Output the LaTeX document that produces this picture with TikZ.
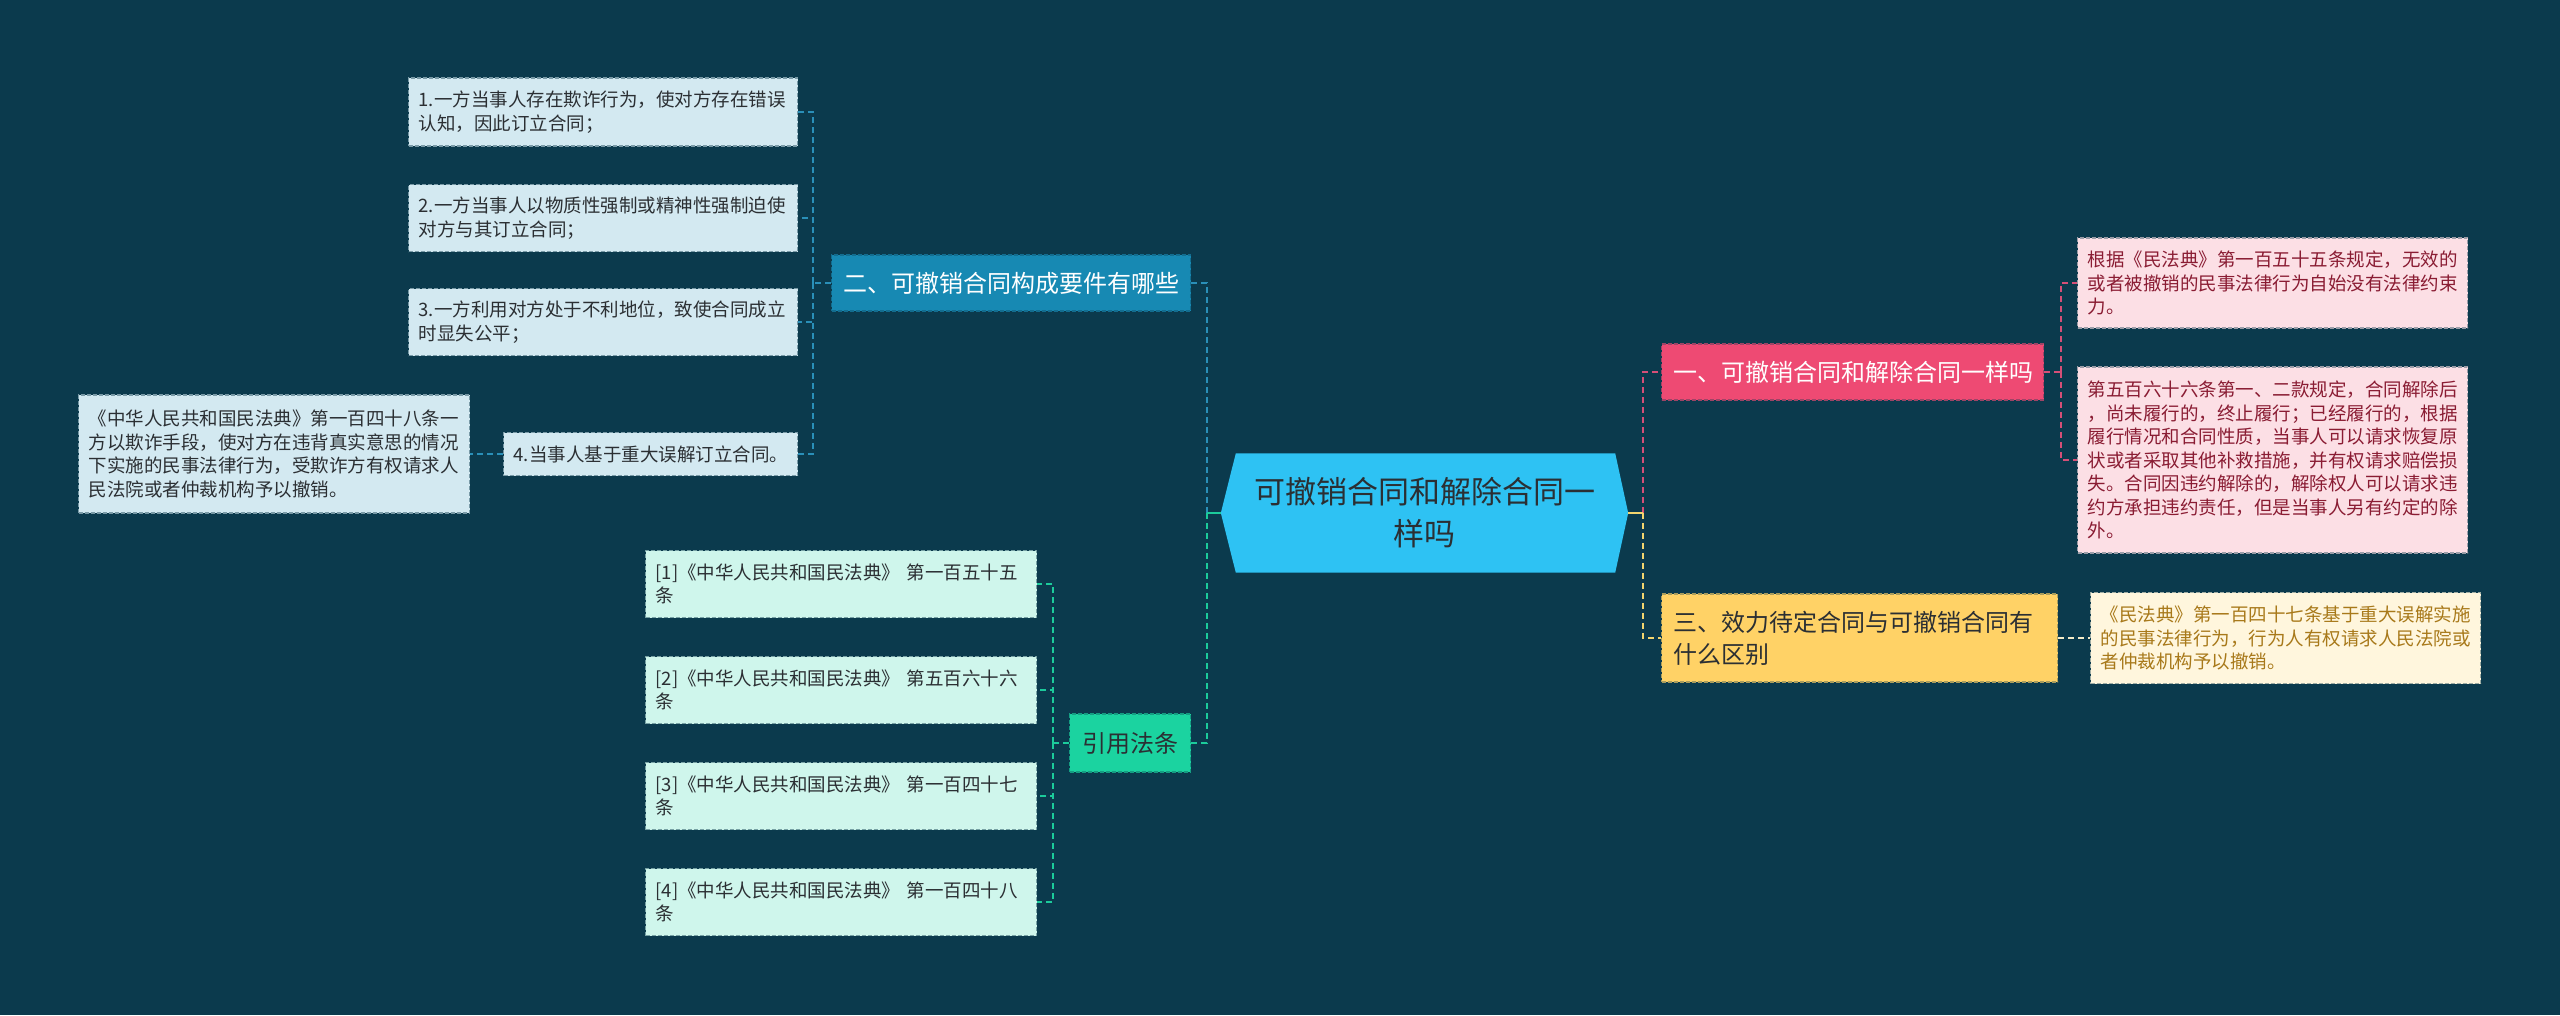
\documentclass[tikz,border=0pt]{standalone}
\usepackage{fontspec}
\usepackage{xcolor}
\usepackage{tikz}
\usetikzlibrary{positioning,backgrounds}
\newfontfamily\cjk{Noto Sans CJK SC}
\definecolor{MapNavy}{HTML}{0B3A4D}
\definecolor{MapSky}{HTML}{2EC2F3}
\definecolor{MapBlue}{HTML}{1789B3}
\definecolor{MapMint}{HTML}{1BD3A0}
\definecolor{MapRose}{HTML}{EE4A73}
\definecolor{MapGold}{HTML}{FFD266}
\definecolor{LeafBlue}{HTML}{D3E9F1}
\definecolor{LeafMint}{HTML}{CFF6EC}
\definecolor{LeafRose}{HTML}{FCDFE5}
\definecolor{LeafGold}{HTML}{FFF6DD}
\definecolor{LinkBlue}{HTML}{2A8FB8}
\definecolor{LinkMint}{HTML}{1CCB9B}
\definecolor{LinkRose}{HTML}{D64F77}
\definecolor{LinkGold}{HTML}{F3D56E}
\definecolor{LinkCream}{HTML}{F4EBC8}
\definecolor{InkDark}{HTML}{2B2F33}
\definecolor{InkRose}{HTML}{8A1C33}
\definecolor{InkGold}{HTML}{A8791A}
\tikzset{
  box/.style={anchor=west, inner ysep=0pt, align=left, line width=1.2pt,
              dash pattern=on 4pt off 2pt},
  leaf/.style={box, inner xsep=10pt, text width=#1, text=InkDark,
               font=\cjk\fontsize{18.5}{23.5}\selectfont},
  topic/.style={box, inner xsep=12pt, text width=#1,
                font=\cjk\fontsize{24}{32}\selectfont},
  blueleaf/.style={leaf=#1, fill=LeafBlue, draw=LeafBlue!55!MapNavy},
  mintleaf/.style={leaf=#1, fill=LeafMint, draw=LeafMint!55!MapNavy},
  roseleaf/.style={leaf=#1, fill=LeafRose, draw=LeafRose!60!MapNavy, text=InkRose},
  goldleaf/.style={leaf=#1, fill=LeafGold, draw=LeafGold!60!MapNavy, text=InkGold},
  twig/.style={line width=1.6pt, dash pattern=on 6pt off 4pt},
  stem/.style={line width=2.4pt}
}

\begin{document}
\begin{tikzpicture}[x=1pt, y=-1pt]
  \useasboundingbox (0,0) rectangle (2560,1015);
  \begin{scope}[on background layer]
    \fill[MapNavy] (0,0) rectangle (2560,1015);
  \end{scope}

  % central topic
  \node[align=center, minimum width=407pt, minimum height=119pt, inner sep=0pt,
        text=InkDark, font=\cjk\fontsize{31}{42}\selectfont]
        (root) at (1424.5,513) {可撤销合同和解除合同一\\样吗};
  \begin{scope}[on background layer]
    \fill[MapSky] (root.west) -- ([xshift=15pt]root.north west)
      -- ([xshift=-13pt]root.north east) -- (root.east)
      -- ([xshift=-13pt]root.south east) -- ([xshift=15pt]root.south west) -- cycle;
  \end{scope}

  % left branches
  \node[topic=335pt, fill=MapBlue, draw=MapBlue!65!MapNavy, text=white, minimum height=56pt]
        (need) at (831,283) {二、可撤销合同构成要件有哪些};
  \node[blueleaf=369pt, minimum height=68pt] (need1) at (408,112)
        {1.一方当事人存在欺诈行为，使对方存在错误\\认知，因此订立合同；};
  \node[blueleaf=369pt, minimum height=67pt] (need2) at (408,218)
        {2.一方当事人以物质性强制或精神性强制迫使\\对方与其订立合同；};
  \node[blueleaf=369pt, minimum height=67pt] (need3) at (408,322)
        {3.一方利用对方处于不利地位，致使合同成立\\时显失公平；};
  \node[blueleaf=274pt, minimum height=43pt] (need4) at (503,454)
        {4.当事人基于重大误解订立合同。};
  \node[blueleaf=371pt, minimum height=118pt] (fraud) at (78,454)
        {《中华人民共和国民法典》第一百四十八条一\\方以欺诈手段，使对方在违背真实意思的情况\\下实施的民事法律行为，受欺诈方有权请求人\\民法院或者仲裁机构予以撤销。};

  \node[topic=97pt, align=center, fill=MapMint, draw=MapMint!65!MapNavy, text=InkDark,
        minimum height=58pt] (cite) at (1069,743) {引用法条};
  \node[mintleaf=371pt, minimum height=67pt] (cite1) at (645,584)
        {[1]《中华人民共和国民法典》 第一百五十五\\条};
  \node[mintleaf=371pt, minimum height=67pt] (cite2) at (645,690)
        {[2]《中华人民共和国民法典》 第五百六十六\\条};
  \node[mintleaf=371pt, minimum height=67pt] (cite3) at (645,796)
        {[3]《中华人民共和国民法典》 第一百四十七\\条};
  \node[mintleaf=371pt, minimum height=67pt] (cite4) at (645,902)
        {[4]《中华人民共和国民法典》 第一百四十八\\条};

  % right branches
  \node[topic=358pt, fill=MapRose, draw=MapRose!65!MapNavy, text=white, minimum height=56pt]
        (same) at (1661,372) {一、可撤销合同和解除合同一样吗};
  \node[roseleaf=370pt, minimum height=90pt] (same1) at (2077,283)
        {根据《民法典》第一百五十五条规定，无效的\\或者被撤销的民事法律行为自始没有法律约束\\力。};
  \node[roseleaf=370pt, minimum height=186pt] (same2) at (2077,460)
        {第五百六十六条第一、二款规定，合同解除后\\，尚未履行的，终止履行；已经履行的，根据\\履行情况和合同性质，当事人可以请求恢复原\\状或者采取其他补救措施，并有权请求赔偿损\\失。合同因违约解除的，解除权人可以请求违\\约方承担违约责任，但是当事人另有约定的除\\外。};

  \node[topic=372pt, fill=MapGold, draw=MapGold!65!MapNavy, text=InkDark, minimum height=88pt]
        (diff) at (1661,638) {三、效力待定合同与可撤销合同有\\什么区别};
  \node[goldleaf=370pt, minimum height=91pt] (diff1) at (2090,638)
        {《民法典》第一百四十七条基于重大误解实施\\的民事法律行为，行为人有权请求人民法院或\\者仲裁机构予以撤销。};

  % connectors
  \coordinate (lj) at ([xshift=-14pt]root.west);
  \coordinate (rj) at ([xshift=15pt]root.east);
  \coordinate (nj) at ([xshift=-18pt]need.west);
  \coordinate (cj) at ([xshift=-16pt]cite.west);
  \coordinate (sj) at ([xshift=17pt]same.east);
  \draw[twig, LinkBlue] (lj) |- (need.east);
  \draw[twig, LinkMint] (lj) |- (cite.east);
  \draw[stem, LinkMint] (root.west) -- (lj);
  \draw[twig, LinkRose] (rj) |- (same.west);
  \draw[twig, LinkGold] (rj) |- (diff.west);
  \draw[stem, LinkGold] (root.east) -- (rj);
  \draw[twig, LinkBlue] (need.west) -- (nj);
  \foreach \n in {need1,need2,need3,need4}
    \draw[twig, LinkBlue] (nj) |- (\n.east);
  \draw[twig, LinkBlue] (need4.west) -- (fraud.east);
  \draw[twig, LinkMint] (cite.west) -- (cj);
  \foreach \n in {cite1,cite2,cite3,cite4}
    \draw[twig, LinkMint] (cj) |- (\n.east);
  \draw[twig, LinkRose] (same.east) -- (sj);
  \foreach \n in {same1,same2}
    \draw[twig, LinkRose] (sj) |- (\n.west);
  \draw[twig, LinkCream] (diff.east) -- (diff1.west);
\end{tikzpicture}
\end{document}
